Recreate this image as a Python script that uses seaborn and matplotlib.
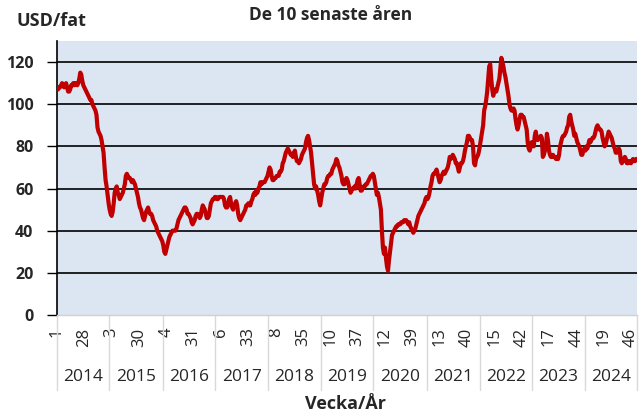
import numpy as np
import pandas as pd
import matplotlib
matplotlib.use("Agg")
import matplotlib.pyplot as plt
import matplotlib.transforms as mtransforms
import seaborn as sns

# ---- data (weekly price, USD/fat) ----
years = ["2014", "2015", "2016", "2017", "2018", "2019", "2020", "2021", "2022", "2023", "2024"]

p2014 = [108,107,108,108,109,110,109,108,109,110, 108,106,106,107,109,109,110,109,110,110,
         109,110,112,115,114,111,109,108,107,106, 105,104,103,102,102,100,99,98,97,95,
         89,87,86,85,83,80,77,70,64,61, 57,53]
p2015 = [50,48,47,49,53,58,60,61,58,57, 55,56,57,58,60,62,66,67,66,65,
         65,64,63,64,63,62,60,58,56,53, 51,50,48,46,45,47,49,50,51,49,
         48,48,47,45,44,43,42,40,39,38, 37,36,35]
p2016 = [33,30,29,31,33,35,37,38,39,40, 40,40,40,41,43,45,46,47,48,49,
         50,51,51,50,48,48,47,46,44,43, 44,45,47,48,48,47,46,47,50,52,
         51,50,48,46,46,47,50,53,54,55, 55,56]
p2017 = [56,55,55,56,56,56,56,56,55,52, 51,51,52,55,56,53,51,50,52,53,
         54,52,48,46,45,46,47,48,49,50, 52,52,53,52,52,54,55,57,58,57,
         59,58,60,61,63,62,63,63,63,64, 65,66]
p2018 = [68,70,69,66,64,64,65,65,66,66, 66,68,68,69,72,73,75,77,78,79,
         78,77,76,76,75,77,78,75,73,73, 72,73,74,76,77,78,79,82,84,85,
         83,80,77,72,67,62,60,61,59,57, 54,52]
p2019 = [55,58,60,62,62,63,65,66,66,67, 67,69,70,71,72,74,73,71,70,68,
         66,63,62,62,64,65,64,62,60,58, 59,60,60,61,60,62,64,65,62,59,
         59,60,61,61,62,62,63,64,65,66, 66,67]
p2020 = [66,63,60,57,58,56,53,50,40,32, 29,32,27,23,21,26,30,34,38,39,
         40,41,42,42,43,43,43,44,44,44, 45,45,45,44,43,44,42,41,40,39,
         40,41,43,45,47,48,49,50,51,52, 53,55,56]
p2021 = [55,56,58,61,63,66,67,67,68,69, 67,65,63,64,66,67,68,67,68,69,
         70,72,75,74,75,76,75,74,72,72, 70,68,70,72,72,73,75,78,80,82,
         85,85,84,83,83,80,72,71,74,75, 76,78]
p2022 = [81,84,87,90,97,99,102,106,112,118, 119,112,107,104,107,106,106,108,110,112,
         117,122,120,118,115,113,110,107,104,100, 98,97,97,98,97,93,90,88,90,93,
         95,95,94,94,92,90,88,82,79,78, 80,82]
p2023 = [81,80,85,87,84,83,84,84,85,84, 75,76,78,80,86,83,78,76,75,75,
         76,75,75,74,75,74,76,80,82,84, 85,85,86,87,89,90,94,95,92,90,
         88,85,86,84,82,81,80,78,76,76, 78,79]
p2024 = [78,80,79,81,83,82,83,84,84,85, 87,89,90,89,88,88,87,84,82,80,
         81,83,85,87,86,85,84,82,80,79, 77,77,78,79,78,73,72,73,74,75,
         74,72,72,73,73,72,73,74,73,73, 74,74]

week_labels = ["1", "28", "3", "30", "4", "31", "6", "33", "8", "35", "10",
               "37", "12", "39", "13", "40", "15", "42", "17", "44", "19", "46"]
y_ticks = [0, 20, 40, 60, 80, 100, 120]

series = [p2014, p2015, p2016, p2017, p2018, p2019, p2020, p2021, p2022, p2023, p2024]
values = np.concatenate([np.array(s, dtype=float) for s in series])
N = len(values)
df = pd.DataFrame({"idx": np.arange(N), "price": values})

# ---- styling ----
sns.set_style("white")
plt.rcParams["font.family"] = ["Open Sans", "DejaVu Sans"]

fig = plt.figure(figsize=(6.43, 4.20), dpi=100)
ax = fig.add_axes([57/643, 1-315/420, 580/643, 274/420])
ax.set_facecolor("#dce6f2")

for yv in y_ticks[1:]:
    ax.axhline(yv, color="black", lw=1.2, zorder=1)

sns.lineplot(data=df, x="idx", y="price", ax=ax, color="#c00000", linewidth=3.0, zorder=3)

ax.set_xlim(0, N - 1)
ax.set_ylim(0, 130)
ax.set_xlabel("")
ax.set_ylabel("")

ax.set_yticks(y_ticks)
ax.set_yticklabels([str(v) for v in y_ticks], fontweight="bold", fontsize=11.5)
ax.tick_params(axis="y", length=7, width=1.0, color="black", pad=10, direction="out", left=True)

tick_pos = list(range(0, N, 27))[:len(week_labels)]
ax.set_xticks(tick_pos)
ax.set_xticklabels(week_labels, rotation=90, fontsize=12, va="top", ha="center")
ax.tick_params(axis="x", length=0, pad=9)

for s in ["top", "right"]:
    ax.spines[s].set_visible(False)
ax.spines["left"].set_color("black")
ax.spines["left"].set_linewidth(1.2)
ax.spines["bottom"].set_color("#d0d0d0")
ax.spines["bottom"].set_linewidth(1.0)

# year groups
counts = [len(s) for s in series]
starts = np.concatenate([[0], np.cumsum(counts)])
trans = mtransforms.blended_transform_factory(ax.transData, ax.transAxes)
for i, b in enumerate(starts):
    xb = 0 if i == 0 else (N - 1 if i == len(starts) - 1 else b - 0.5)
    ax.plot([xb, xb], [0, -0.275], transform=trans, color="#d9d9d9", lw=1.0, clip_on=False)
for i, yr in enumerate(years):
    lo = 0 if i == 0 else starts[i] - 0.5
    hi = N - 1 if i == len(years) - 1 else starts[i + 1] - 0.5
    ax.text((lo + hi) / 2, -0.225, yr, transform=trans, ha="center", va="center", fontsize=12.5)

fig.text(331/643, 1-15/420, "De 10 senaste åren", ha="center", va="center", fontsize=12.5, fontweight="bold")
fig.text(51/643, 1-21/420, "USD/fat", ha="center", va="center", fontsize=13, fontweight="bold")
fig.text(346/643, 1-404/420, "Vecka/År", ha="center", va="center", fontsize=13, fontweight="bold")

fig.savefig("out.png", dpi=100)
